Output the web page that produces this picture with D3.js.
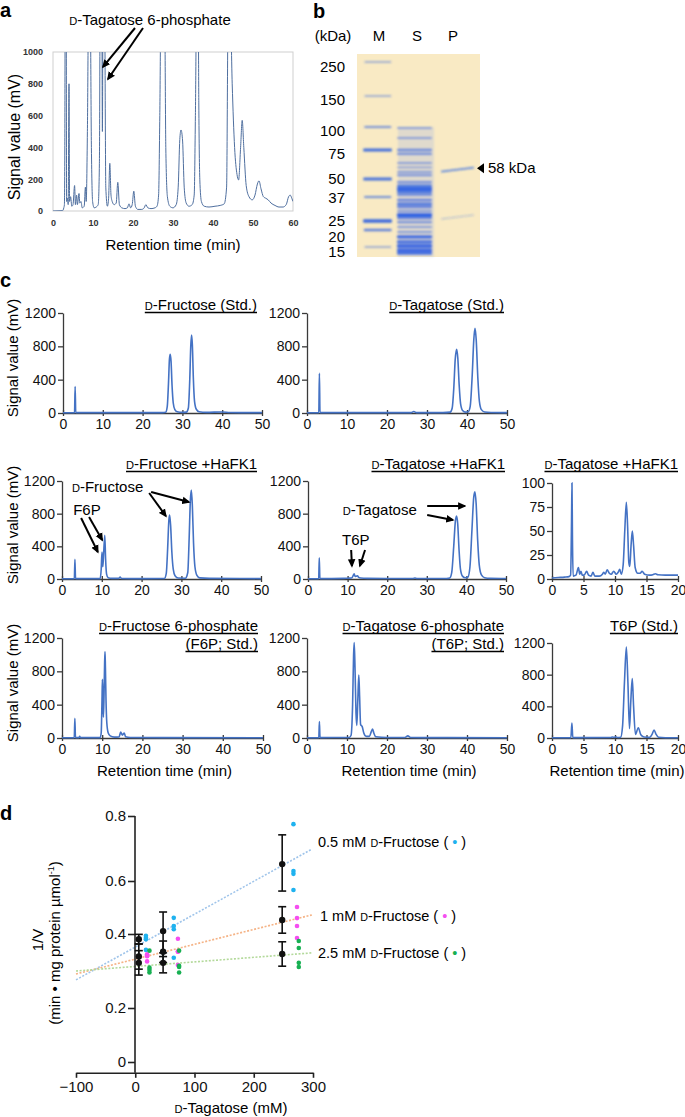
<!DOCTYPE html>
<html><head><meta charset="utf-8">
<script src="https://cdn.jsdelivr.net/npm/d3@7"></script>
<style>body{margin:0;background:#fff}svg{display:block}</style>
</head><body><svg id="fig" width="685" height="1117"></svg>
<script>
// ================= DATA =================
// Panel a: HPLC trace [retention time (min), signal (mV)]
const aTrace = [[0,0],[2.4,2],[2.7,20],[2.85,40],[2.95,390],[3.05,1300],[3.3,1300],[3.4,60],[3.6,80],[3.8,40],[4.0,800],[4.15,60],[4.4,90],[4.7,30],[5.0,40],[5.4,160],[5.6,40],[5.9,100],[6.1,40],[6.5,110],[6.7,50],[7.0,60],[7.3,20],[7.8,30],[8.1,150],[8.3,60],[8.6,500],[8.9,1300],[9.3,1300],[9.6,400],[9.9,60],[10.3,20],[10.8,25],[11.3,40],[11.6,300],[11.8,1300],[12.2,1300],[12.35,500],[12.5,1300],[12.9,1300],[13.2,150],[13.6,30],[13.9,80],[14.2,300],[14.5,100],[14.8,60],[15.3,40],[15.8,50],[16.2,180],[16.6,40],[17.2,20],[18.0,15],[18.6,20],[19.0,45],[19.4,20],[19.8,40],[20.2,125],[20.6,30],[21.2,10],[22.2,10],[22.8,20],[23.2,40],[23.7,20],[24.5,15],[25.5,20],[26.0,30],[26.4,100],[26.7,600],[27.0,1300],[27.9,1300],[28.2,400],[28.6,90],[29.2,30],[30.0,20],[30.8,40],[31.3,150],[31.7,450],[32.0,510],[32.4,440],[32.8,150],[33.3,50],[34.0,30],[34.8,40],[35.3,100],[35.6,600],[35.9,1300],[36.3,1300],[36.45,680],[36.7,200],[37.1,60],[37.8,30],[39.0,25],[40.5,30],[41.8,35],[42.8,45],[43.4,150],[43.8,1300],[44.3,1300],[44.8,800],[45.4,400],[46.0,230],[46.4,195],[46.9,400],[47.3,570],[47.7,400],[48.3,160],[49.0,90],[49.8,70],[50.5,100],[51.1,170],[51.5,190],[52.0,140],[52.6,90],[53.2,80],[53.8,70],[54.5,50],[55.5,35],[56.5,25],[57.5,25],[58.3,40],[58.9,90],[59.3,100],[59.7,80],[60,60]];
const aXTicks = [0,10,20,30,40,50,60];
const aYTicks = [0,200,400,600,800,1000];

// Panel b: SDS-PAGE (kDa)
const laneNames = ["M","S","P"];
const markerKDa = [250,150,100,75,50,37,25,20,15];
const markerIntensity = [0.3,0.3,0.45,0.9,0.85,0.5,0.95,0.65,0.3];
const sampleKDa = [99,88,75,71.6,63.8,60,56,53.4,47.8,45,42.8,40.6,38.5,35.5,33.5,32,30,28,26.5,24.4,21.7,19.4,18,16.5,15.3,14.1,13.2];
const sampleIntensity = [0.35,0.35,0.55,0.5,0.35,0.3,0.4,0.45,0.5,0.7,0.95,0.7,0.5,0.6,0.7,0.6,0.45,1.0,0.6,0.5,0.35,0.4,0.85,0.8,0.9,0.9,0.8];
const purifiedKDa = [58,27];
const purifiedIntensity = [0.7,0.2];

// Panel c: chromatograms [time (min), signal (mV)]
const cFruStd = [[0,3],[2.9,4],[3.05,316],[3.2,5],[5,5],[10,4],[20,4],[25,5],[25.8,10],[26.2,80],[26.5,350],[26.75,650],[26.95,704],[27.15,620],[27.4,330],[27.7,120],[28.1,40],[28.7,15],[30,8],[31.0,10],[31.5,60],[31.85,400],[32.1,800],[32.3,936],[32.5,820],[32.75,420],[33.05,140],[33.5,45],[34.2,15],[36,8],[40,12],[42,6],[50,4]];
const cTagStd = [[0,3],[2.95,4],[3.1,476],[3.25,5],[10,4],[20,4],[26.0,4],[26.7,18],[27.4,4],[34,4],[35.8,10],[36.3,60],[36.7,300],[37.05,640],[37.4,765],[37.7,660],[38.05,330],[38.4,110],[38.9,30],[39.6,10],[40.3,15],[40.8,80],[41.3,450],[41.7,880],[42.0,1016],[42.3,880],[42.7,430],[43.1,140],[43.6,40],[44.4,12],[46,6],[50,4]];
const cFruHa = [[0,3],[3.1,4],[3.25,241],[3.4,5],[9.6,5],[9.85,120],[10.05,330],[10.25,150],[10.45,300],[10.75,535],[10.95,250],[11.2,60],[11.6,15],[12.5,8],[14.3,8],[14.6,25],[14.9,8],[20,5],[25.7,6],[26.2,70],[26.55,380],[26.85,720],[27.05,783],[27.3,650],[27.6,330],[27.95,120],[28.4,40],[29.2,12],[31,10],[31.6,80],[31.95,500],[32.25,960],[32.5,1089],[32.75,900],[33.05,440],[33.4,150],[33.9,45],[34.6,14],[37,8],[50,5]];
const cTagHa = [[0,3],[2.7,4],[2.85,260],[3.0,5],[9,8],[10,10],[11.0,12],[11.4,40],[11.65,65],[11.9,30],[12.2,35],[12.5,40],[12.8,20],[13.3,12],[15,8],[20,6],[26.5,6],[27,12],[27.5,6],[35,6],[35.8,12],[36.3,80],[36.8,400],[37.2,700],[37.5,771],[37.8,680],[38.15,350],[38.5,120],[39.0,35],[39.7,15],[40.4,25],[40.9,150],[41.4,600],[41.85,1000],[42.15,1069],[42.45,930],[42.85,470],[43.25,170],[43.8,50],[44.6,15],[46,8],[50,6]];
const cTagHaZoom = [[0,1],[1,1.5],[2,2],[2.7,2.5],[2.95,4],[3.1,60],[3.17,100],[3.25,40],[3.35,3],[3.8,4],[4.2,12],[4.4,5],[4.6,8],[4.8,4],[5.1,4],[5.5,8],[5.8,4],[6.2,3],[6.5,7],[6.8,3],[7.5,3],[8.0,5],[8.2,7],[8.45,5],[8.75,9.5],[9.1,6],[9.4,5],[9.8,8],[10.2,5],[10.5,7],[10.75,10],[11.0,5],[11.3,15],[11.55,50],[11.8,80],[12.0,55],[12.2,17],[12.35,13],[12.55,35],[12.75,50],[12.95,35],[13.2,12],[13.6,6],[14.0,6],[14.3,8],[14.7,5],[15.5,4],[16.0,4.5],[16.4,5.5],[16.8,4.5],[18,4],[20,4]];
const cF6PStd = [[0,3],[3.05,4],[3.2,236],[3.35,5],[4.2,5],[4.4,20],[4.6,5],[9.5,5],[9.75,60],[9.95,450],[10.05,704],[10.15,500],[10.3,250],[10.45,500],[10.6,900],[10.7,1036],[10.8,850],[10.95,450],[11.15,180],[11.5,60],[12.0,25],[13.0,10],[14.2,12],[14.6,72],[15.0,35],[15.5,60],[15.8,15],[17,6],[25,4],[50,3]];
const cT6PStd = [[0,3],[2.95,4],[3.1,196],[3.25,5],[10.5,6],[11.0,30],[11.4,400],[11.65,1000],[11.8,1144],[12.0,850],[12.25,300],[12.45,150],[12.7,450],[12.95,756],[13.15,500],[13.4,160],[13.8,136],[14.2,60],[14.8,20],[15.6,20],[16.1,80],[16.4,108],[16.7,60],[17.2,15],[20,6],[24.5,6],[25.2,25],[25.9,6],[35,4],[50,3]];
const cT6PStdZoom = [[0,3],[3.0,4],[3.16,190],[3.3,5],[4.8,5],[5.0,10],[5.2,5],[9.3,6],[9.6,12],[9.9,8],[10.1,15],[10.4,6],[10.9,10],[11.2,150],[11.5,700],[11.8,1150],[12.05,700],[12.3,118],[12.5,450],[12.74,750],[12.95,400],[13.25,45],[13.7,130],[14.1,40],[14.6,12],[15.5,8],[15.9,50],[16.2,100],[16.5,50],[16.9,10],[18,4],[20,3]];
const cTicks50 = [0,10,20,30,40,50];
const cTicks20 = [0,5,10,15,20];
const cYTicks1200 = [0,400,800,1200];
const cYTicks100 = [0,25,50,75,100];

// Panel d: Dixon plot
const dLevels = ["0.5 mM ᴅ-Fructose (", "1 mM ᴅ-Fructose (", "2.5 mM ᴅ-Fructose ("];
const dMeanX = [6, 47, 248];
const dMean05 = [0.386, 0.411, 0.652], dSD05 = [0.013, 0.072, 0.09];
const dMean1  = [0.339, 0.352, 0.453], dSD1  = [0.034, 0.029, 0.05];
const dMean25 = [0.322, 0.322, 0.346], dSD25 = [0.033, 0.027, 0.033];
const dDotX05 = [18, 65, 267], dDots05 = [[0.395,0.39,0.386,0.357],[0.461,0.43,0.418,0.336],[0.775,0.631,0.622,0.566]];
const dDotX1  = [20, 72, 273], dDots1  = [[0.345,0.342,0.34,0.326],[0.387,0.353,0.352,0.316],[0.502,0.46,0.43,0.389]];
const dDotX25 = [24, 74, 276], dDots25 = [[0.355,0.309,0.303,0.296],[0.355,0.314,0.311,0.296],[0.381,0.362,0.322,0.311]];
const dFit05 = [[-100,0.276],[298,0.698]];
const dFit1  = [[-100,0.292],[298,0.472]];
const dFit25 = [[-100,0.300],[298,0.349]];
const dXTicks = [-100,0,100,200,300];
const dYTicks = [0,0.2,0.4,0.6,0.8];

// ================= DRAW =================
const FONT = '"Liberation Sans", Arial, Helvetica, sans-serif';
const svg = d3.select("#fig").attr("font-family", FONT);
const defs = svg.append("defs");
defs.append("marker").attr("id","arr").attr("viewBox","0 0 10 10").attr("refX",8).attr("refY",5)
  .attr("markerWidth",4.2).attr("markerHeight",4.2).attr("orient","auto")
  .append("path").attr("d","M0,0.5 L10,5 L0,9.5 Z").attr("fill","#000");
defs.append("filter").attr("id","blur").attr("x","-20%").attr("y","-200%").attr("width","140%").attr("height","500%")
  .append("feGaussianBlur").attr("stdDeviation",0.9);
defs.append("clipPath").attr("id","clipA").append("rect").attr("x",53).attr("y",52).attr("width",240).attr("height",159);
const intFmt = d3.format("d");

function rich(sel, str, size){
  str.split(/(ᴅ)/).forEach(p=>{
    if(!p) return;
    if(p==="ᴅ") sel.append("tspan").attr("font-size", size*0.74).text("D");
    else sel.append("tspan").text(p);
  });
  return sel;
}
function panelLabel(t,x,y){ svg.append("text").attr("x",x).attr("y",y).attr("font-size",20).attr("font-weight","bold").text(t); }
function arrow(g, p1, p2, w){
  g.append("line").attr("x1",p1[0]).attr("y1",p1[1]).attr("x2",p2[0]).attr("y2",p2[1])
    .attr("stroke","#000").attr("stroke-width",w||2).attr("marker-end","url(#arr)");
}

// ---------- Panel a ----------
panelLabel("a",0,17);
{
  const x = d3.scaleLinear().domain([0,60]).range([53,293]);
  const y = d3.scaleLinear().domain([0,1000]).range([211,52]);
  const g = svg.append("g");
  g.append("rect").attr("x",53).attr("y",52).attr("width",240).attr("height",159).attr("fill","none").attr("stroke","#cfcfcf");
  const ya = g.append("g").attr("transform","translate(53,0)").call(d3.axisLeft(y).tickValues(aYTicks).tickFormat(intFmt).tickSize(0).tickPadding(10));
  const xa = g.append("g").attr("transform","translate(0,211)").call(d3.axisBottom(x).tickValues(aXTicks).tickFormat(intFmt).tickSize(0).tickPadding(9));
  [ya,xa].forEach(a=>{a.select(".domain").remove(); a.selectAll("text").attr("font-size",9).attr("font-weight","bold").attr("fill","#333").attr("font-family",FONT);});
  g.append("path").datum(aTrace).attr("clip-path","url(#clipA)").attr("fill","none").attr("stroke","#4f6f9f").attr("stroke-width",1)
    .attr("d", d3.line().x(d=>x(d[0])).y(d=>y(d[1])).curve(d3.curveMonotoneX));
  rich(g.append("text").attr("x",x(24.25)).attr("y",y(1170)).attr("text-anchor","middle").attr("font-size",15), "ᴅ-Tagatose 6-phosphate", 15);
  arrow(g,[x(20.5),y(1151)],[x(12.5),y(906)]);
  arrow(g,[x(22.5),y(1151)],[x(13.75),y(830)]);
  g.append("text").attr("transform","translate(20,137) rotate(-90)").attr("text-anchor","middle").attr("font-size",16).text("Signal value (mV)");
  g.append("text").attr("x",173).attr("y",250).attr("text-anchor","middle").attr("font-size",15).text("Retention time (min)");
}

// ---------- Panel b ----------
panelLabel("b",313,18);
{
  const g = svg.append("g");
  const gy = d3.scaleLinear().domain(markerKDa).range([62,96,127,150,179,197,221,230,247]);
  const gyLabel = d3.scaleLinear().domain(markerKDa).range([66,99,130,153,178,197,220,236,251]);
  const lane = d3.scalePoint().domain(laneNames).range([378,456]);
  g.append("rect").attr("x",357).attr("y",54).attr("width",123).attr("height",203).attr("fill","#f9eac4");
  g.append("text").attr("x",333).attr("y",41).attr("text-anchor","middle").attr("font-size",15).text("(kDa)");
  g.selectAll(".ln").data(laneNames).join("text").attr("x",d=>lane(d)+(d==="M"?1:d==="P"?-3:0)).attr("y",41)
    .attr("text-anchor","middle").attr("font-size",15).text(d=>d);
  g.selectAll(".mk").data(markerKDa).join("text").attr("x",345).attr("y",d=>gyLabel(d)+5.5).attr("text-anchor","end").attr("font-size",15).text(d=>d);
  const bands = g.append("g").attr("filter","url(#blur)");
  bands.append("rect").attr("x",lane("S")-19).attr("y",gy(100)).attr("width",36).attr("height",257-gy(100)).attr("fill","#7c9cf0").attr("opacity",0.2);
  bands.selectAll(".mb").data(markerKDa).join("rect")
    .attr("x",(d,i)=>lane("M")-13-markerIntensity[i]*2).attr("width",(d,i)=>26+markerIntensity[i]*3)
    .attr("y",(d,i)=>gy(d)-(1+markerIntensity[i]*2.4)/2).attr("height",(d,i)=>1+markerIntensity[i]*2.4)
    .attr("rx",1).attr("fill","#2b5fe0").attr("opacity",(d,i)=>0.35+0.6*markerIntensity[i]);
  bands.selectAll(".sb").data(sampleKDa).join("rect")
    .attr("x",lane("S")-20).attr("width",35)
    .attr("y",(d,i)=>gy(d)-(1+sampleIntensity[i]*2.6)/2).attr("height",(d,i)=>1+sampleIntensity[i]*2.6)
    .attr("rx",1).attr("fill","#1f55e6").attr("opacity",(d,i)=>0.2+0.75*sampleIntensity[i]);
  bands.selectAll(".pb").data(purifiedKDa).join("rect")
    .attr("x",lane("P")-15).attr("width",33)
    .attr("y",(d,i)=>gy(d)-(0.8+purifiedIntensity[i]*1.5)/2).attr("height",(d,i)=>0.8+purifiedIntensity[i]*1.5)
    .attr("transform",d=>`rotate(-7,${lane("P")+1},${gy(d)})`)
    .attr("fill","#2b66e6").attr("opacity",(d,i)=>0.25+0.7*purifiedIntensity[i]);
  const ay = gy(purifiedKDa[0])-1.5;
  g.append("path").attr("d",`M477,${ay} L484,${ay-5} L484,${ay+5} Z`).attr("fill","#000");
  g.append("text").attr("x",488).attr("y",ay+5).attr("font-size",15).text("58 kDa");
}

// ---------- Panel c ----------
panelLabel("c",0,287);
function chrom(cfg){
  const x = d3.scaleLinear().domain([0,cfg.xMax]).range(cfg.xr);
  const y = d3.scaleLinear().domain([0,cfg.yMax]).range(cfg.yr);
  const g = svg.append("g");
  const ya = g.append("g").attr("transform",`translate(${cfg.xr[0]},0)`)
    .call(d3.axisLeft(y).tickValues(cfg.yTicks).tickFormat(intFmt).tickSize(5).tickSizeOuter(0).tickPadding(2));
  const xa = g.append("g").attr("transform",`translate(0,${cfg.yr[0]})`)
    .call(d3.axisBottom(x).tickValues(cfg.xTicks).tickFormat(intFmt).tickSize(3).tickSizeOuter(0).tickPadding(3));
  xa.selectAll(".tick line").attr("y1",-3);
  [ya,xa].forEach(a=>{a.selectAll("path,line").attr("stroke","#3a3a3a").attr("stroke-width",1.3);
    a.selectAll("text").attr("font-size",14).attr("fill","#111").attr("font-family",FONT);});
  g.append("path").datum(cfg.data).attr("fill","none").attr("stroke","#4472c4").attr("stroke-width",1.6)
    .attr("d", d3.line().x(d=>x(d[0])).y(d=>y(d[1])).curve(d3.curveMonotoneX));
  cfg.title.forEach((t,i)=>{
    const by = cfg.titleY + i*18;
    const tx = rich(g.append("text").attr("x",cfg.titleX).attr("y",by).attr("text-anchor","end").attr("font-size",15), t, 15);
    const bb = tx.node().getBBox();
    g.append("line").attr("x1",bb.x).attr("x2",bb.x+bb.width).attr("y1",by+2.5).attr("y2",by+2.5).attr("stroke","#000").attr("stroke-width",1.4);
  });
  if(cfg.yTitle) g.append("text").attr("transform",`translate(18,${(cfg.yr[0]+cfg.yr[1])/2-5}) rotate(-90)`).attr("text-anchor","middle").attr("font-size",15).text("Signal value (mV)");
  if(cfg.xTitle) g.append("text").attr("x",(cfg.xr[0]+cfg.xr[1])/2+2).attr("y",cfg.yr[0]+38).attr("text-anchor","middle").attr("font-size",15).text("Retention time (min)");
  return {x,y,g};
}
chrom({xr:[63,262], yr:[413,313], xMax:50, yMax:1200, xTicks:cTicks50, yTicks:cYTicks1200, data:cFruStd, title:["ᴅ-Fructose (Std.)"], titleX:257, titleY:310, yTitle:true});
chrom({xr:[307,507], yr:[413,313], xMax:50, yMax:1200, xTicks:cTicks50, yTicks:cYTicks1200, data:cTagStd, title:["ᴅ-Tagatose (Std.)"], titleX:504, titleY:310});
{
  const p = chrom({xr:[62,261], yr:[579,481], xMax:50, yMax:1200, xTicks:cTicks50, yTicks:cYTicks1200, data:cFruHa, title:["ᴅ-Fructose +HaFK1"], titleX:257, titleY:469, yTitle:true});
  const {x,y,g} = p;
  rich(g.append("text").attr("x",x(2.5)).attr("y",y(1065)).attr("font-size",15), "ᴅ-Fructose", 15);
  arrow(g,[x(21.9),y(1053)],[x(26.1),y(771)]);
  arrow(g,[x(22.4),y(1065)],[x(31.9),y(942)]);
  g.append("text").attr("x",x(2.8)).attr("y",y(783)).attr("font-size",15).text("F6P");
  arrow(g,[x(4.8),y(747)],[x(9.0),y(330)]);
  arrow(g,[x(6.8),y(759)],[x(10.1),y(477)]);
}
{
  const p = chrom({xr:[308,506], yr:[579,481], xMax:50, yMax:1200, xTicks:cTicks50, yTicks:cYTicks1200, data:cTagHa, title:["ᴅ-Tagatose +HaFK1"], titleX:505, titleY:469});
  const {x,y,g} = p;
  rich(g.append("text").attr("x",x(8.8)).attr("y",y(783)).attr("font-size",15), "ᴅ-Tagatose", 15);
  arrow(g,[x(30.1),y(893)],[x(39.6),y(893)]);
  arrow(g,[x(30.1),y(783)],[x(36.6),y(722)]);
  g.append("text").attr("x",x(8.6)).attr("y",y(416)).attr("font-size",15).text("T6P");
  arrow(g,[x(10.9),y(355)],[x(11.1),y(159)]);
  arrow(g,[x(14.4),y(355)],[x(13.1),y(159)]);
}
chrom({xr:[552,678], yr:[579,483], xMax:20, yMax:100, xTicks:cTicks20, yTicks:cYTicks100, data:cTagHaZoom, title:["ᴅ-Tagatose +HaFK1"], titleX:678, titleY:469});
chrom({xr:[62,263], yr:[738,638], xMax:50, yMax:1200, xTicks:cTicks50, yTicks:cYTicks1200, data:cF6PStd, title:["ᴅ-Fructose 6-phosphate","(F6P; Std.)"], titleX:258, titleY:631, yTitle:true, xTitle:true});
chrom({xr:[307,507], yr:[738,638], xMax:50, yMax:1200, xTicks:cTicks50, yTicks:cYTicks1200, data:cT6PStd, title:["ᴅ-Tagatose 6-phosphate","(T6P; Std.)"], titleX:504, titleY:631, xTitle:true});
chrom({xr:[552,678], yr:[738,643], xMax:20, yMax:1200, xTicks:cTicks20, yTicks:cYTicks1200, data:cT6PStdZoom, title:["T6P (Std.)"], titleX:678, titleY:631, xTitle:true});

// ---------- Panel d ----------
panelLabel("d",0,820);
{
  const g = svg.append("g");
  const x = d3.scaleLinear().domain([-100,300]).range([76,313]);
  const y = d3.scaleLinear().domain(dYTicks).range([1062,1008,934,881,816]);
  const axisY = y(-0.04);
  const colors = ["#1fb2ef","#f54ef0","#17b052"];
  const fitColors = ["#9fc4ea","#f5b386","#b3d99a"];
  const fits = [dFit05,dFit1,dFit25];
  fits.forEach((f,i)=>{
    g.append("path").datum(f).attr("fill","none").attr("stroke",fitColors[i]).attr("stroke-width",1.6).attr("stroke-dasharray","2,1.6")
      .attr("d", d3.line().x(d=>x(d[0])).y(d=>y(d[1])));
  });
  const ya = g.append("g").attr("transform","translate(135,0)")
    .call(d3.axisLeft(y).tickValues(dYTicks).tickSize(7).tickPadding(2).tickFormat(d=>d===0?"0":d3.format(".1f")(d)));
  ya.select(".domain").remove();
  g.append("line").attr("x1",135).attr("x2",135).attr("y1",y(0.8)).attr("y2",axisY).attr("stroke","#222").attr("stroke-width",1.6);
  const xa = g.append("g").attr("transform",`translate(0,${axisY})`)
    .call(d3.axisBottom(x).tickValues(dXTicks).tickSize(5).tickSizeOuter(0).tickPadding(4));
  [ya,xa].forEach(a=>{a.selectAll("path,line").attr("stroke","#222").attr("stroke-width",1.6);
    a.selectAll("text").attr("font-size",15).attr("fill","#111").attr("font-family",FONT);});
  const dotSets = [[dDotX05,dDots05],[dDotX1,dDots1],[dDotX25,dDots25]];
  dotSets.forEach(([xs,vals],i)=>{
    const pts = [];
    xs.forEach((xv,j)=>vals[j].forEach(v=>pts.push([xv,v])));
    g.selectAll(null).data(pts).join("circle").attr("cx",d=>x(d[0])).attr("cy",d=>y(d[1])).attr("r",2.3).attr("fill",colors[i]);
  });
  const meanSets = [[dMean05,dSD05],[dMean1,dSD1],[dMean25,dSD25]];
  meanSets.forEach(([m,s])=>{
    dMeanX.forEach((xv,j)=>{
      const cx = x(xv);
      const y1 = y(m[j]-s[j]), y2 = y(m[j]+s[j]);
      g.append("line").attr("x1",cx).attr("x2",cx).attr("y1",y1).attr("y2",y2).attr("stroke","#111").attr("stroke-width",1.6);
      [y1,y2].forEach(yy=>g.append("line").attr("x1",cx-4).attr("x2",cx+4).attr("y1",yy).attr("y2",yy).attr("stroke","#111").attr("stroke-width",1.6));
      g.append("circle").attr("cx",cx).attr("cy",y(m[j])).attr("r",3.2).attr("fill","#111");
    });
  });
  const legY = [847,921,958];
  const legX = [318,320,318];
  dLevels.forEach((t,i)=>{
    const tx = rich(g.append("text").attr("x",legX[i]).attr("y",legY[i]).attr("font-size",14.5), t, 14.5);
    tx.append("tspan").text("\u00a0");
    tx.append("tspan").attr("fill",colors[i]).text("•");
    tx.append("tspan").text("\u00a0)");
  });
  g.append("text").attr("transform","translate(43,940) rotate(-90)").attr("text-anchor","middle").attr("font-size",15).text("1/V");
  const yt = g.append("text").attr("transform","translate(60,943) rotate(-90)").attr("text-anchor","middle").attr("font-size",15);
  yt.append("tspan").text("(min • mg protein µmol");
  yt.append("tspan").attr("font-size",9).attr("dy",-6).text("-1");
  yt.append("tspan").attr("dy",6).text(")");
  rich(g.append("text").attr("x",231).attr("y",1113).attr("text-anchor","middle").attr("font-size",15), "ᴅ-Tagatose (mM)", 15);
}
</script></body></html>
